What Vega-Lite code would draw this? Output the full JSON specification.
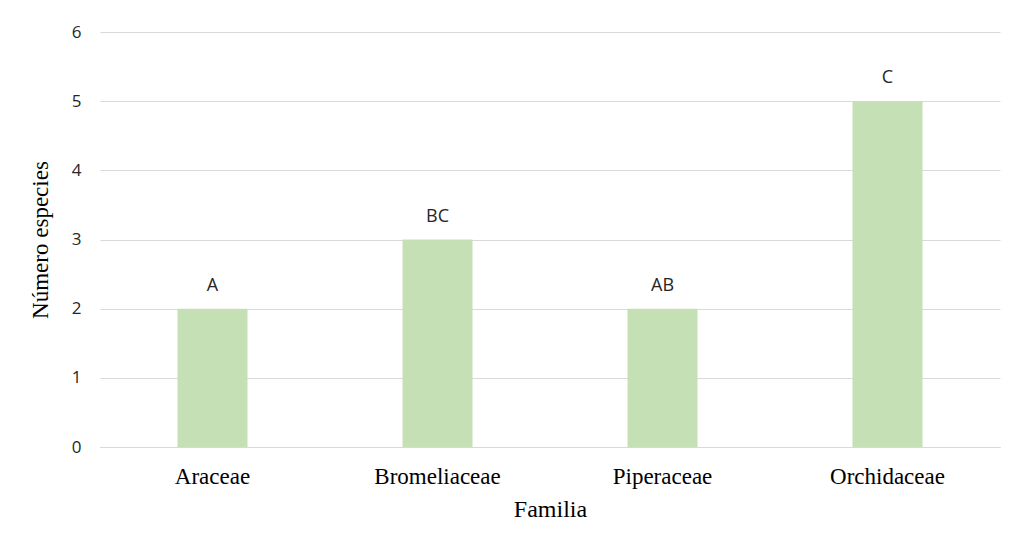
{
  "$schema": "https://vega.github.io/schema/vega-lite/v6.json",
  "width": 900,
  "height": 415,
  "autosize": "none",
  "padding": {"left": 100, "top": 32, "right": 14, "bottom": 104},
  "background": "white",
  "config": {
    "view": {"stroke": null},
    "axis": {"gridColor": "#d9d9d9", "gridWidth": 1, "domainColor": "#d9d9d9", "ticks": false}
  },
  "data": {
    "values": [
      {"familia": "Araceae", "n": 2, "grupo": "A"},
      {"familia": "Bromeliaceae", "n": 3, "grupo": "BC"},
      {"familia": "Piperaceae", "n": 2, "grupo": "AB"},
      {"familia": "Orchidaceae", "n": 5, "grupo": "C"}
    ]
  },
  "encoding": {
    "x": {
      "field": "familia",
      "type": "nominal",
      "sort": null,
      "scale": {"paddingInner": 0, "paddingOuter": 0},
      "axis": {
        "title": "Familia",
        "labelAngle": 0,
        "labelFont": "Liberation Serif",
        "labelFontSize": 23,
        "labelColor": "#000000",
        "labelPadding": 18,
        "titleFont": "Liberation Serif",
        "titleFontSize": 24,
        "titleFontWeight": "normal",
        "titleColor": "#000000",
        "titlePadding": 9,
        "grid": false,
        "domain": true
      }
    },
    "y": {
      "field": "n",
      "type": "quantitative",
      "scale": {"domain": [0, 6]},
      "axis": {
        "title": "Número especies",
        "values": [0, 1, 2, 3, 4, 5, 6],
        "labelFont": "Open Sans",
        "labelFontSize": 17,
        "labelColor": "#262626",
        "labelPadding": 19,
        "titleFont": "Liberation Serif",
        "titleFontSize": 23,
        "titleFontWeight": "normal",
        "titleColor": "#000000",
        "titlePadding": 19,
        "domain": false,
        "grid": true
      }
    }
  },
  "layer": [
    {"mark": {"type": "bar", "color": "#c5e0b4", "size": 70}},
    {
      "mark": {"type": "text", "baseline": "bottom", "dy": -14, "font": "Open Sans", "fontSize": 18, "color": "#262626"},
      "encoding": {"text": {"field": "grupo"}}
    }
  ]
}
